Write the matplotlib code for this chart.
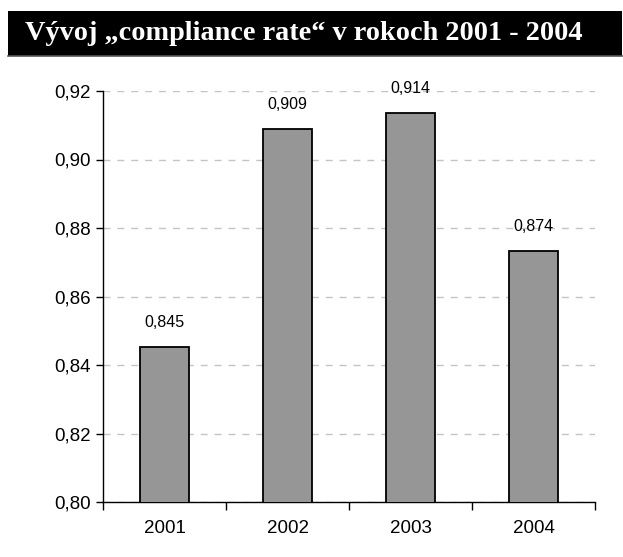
import numpy as np
import matplotlib.pyplot as plt
from matplotlib.patches import Rectangle
from matplotlib.lines import Line2D

# data
years = ['2001', '2002', '2003', '2004']
rates = [0.8453, 0.9090, 0.9137, 0.8734]
rate_labels = ['0,845', '0,909', '0,914', '0,874']
y_ticks = [0.80, 0.82, 0.84, 0.86, 0.88, 0.90, 0.92]
y_tick_labels = ['0,80', '0,82', '0,84', '0,86', '0,88', '0,90', '0,92']

fig = plt.figure(figsize=(6.23, 5.57), dpi=100)
W, H = 623, 557

# black title bar
fig.patches.append(Rectangle((8 / W, 1 - 56 / H), 614 / W, 45 / H,
                             transform=fig.transFigure, facecolor='black',
                             edgecolor='none', zorder=0))
fig.lines.append(Line2D([8 / W, 622 / W], [1 - 56 / H, 1 - 56 / H],
                        transform=fig.transFigure, color='#555555', lw=1.2))
fig.text(25 / W, 1 - 34 / H, 'Vývoj „compliance rate“ v rokoch 2001 - 2004',
         color='white', fontsize=20.3, fontweight='bold', family='Liberation Serif',
         va='center', ha='left')

# plot area
ax = fig.add_axes([103 / W, 1 - 502 / H, 492 / W, 411 / H])
x = np.arange(len(years))
ax.bar(x, rates, width=0.4, bottom=0, color='#969696', edgecolor='black',
       linewidth=1.3, zorder=3)
for xi, r, lab in zip(x, rates, rate_labels):
    ax.annotate(lab, (xi, r), xytext=(0, 12), textcoords='offset points',
                ha='center', va='bottom', fontsize=11.5, family='Liberation Sans',
                zorder=4)

ax.set_xlim(-0.5, len(years) - 0.5)
ax.set_ylim(0.80, 0.92)
ax.set_yticks(y_ticks)
ax.set_yticklabels(y_tick_labels, family='Liberation Sans', fontsize=13.5)
ax.set_xticks(np.arange(-0.5, len(years)), minor=False)
ax.set_xticklabels([])
ax.set_xticks(x, minor=True)
ax.set_xticklabels(years, minor=True, family='Liberation Sans', fontsize=13.5)
ax.tick_params(axis='x', which='minor', length=0, pad=13)
ax.tick_params(axis='x', which='major', length=6, direction='out', width=1)
ax.tick_params(axis='y', length=5, direction='out', width=1, pad=4)

ax.yaxis.grid(True, linestyle=(0, (5, 5)), color='#c4c4c4', linewidth=1, zorder=0)
ax.set_axisbelow(True)
for s in ['top', 'right']:
    ax.spines[s].set_visible(False)
ax.spines['left'].set_linewidth(1)
ax.spines['bottom'].set_linewidth(1)

fig.savefig('out.png', dpi=100)
